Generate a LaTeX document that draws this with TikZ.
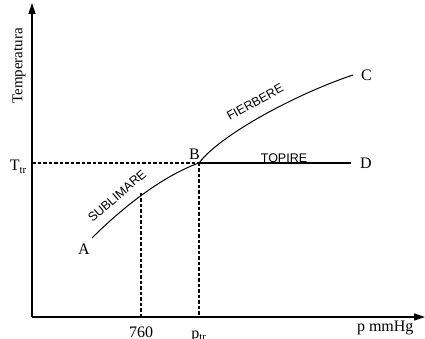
\documentclass[tikz,border=0pt]{standalone}
\usepackage{fontspec}
\setmainfont{Liberation Serif}
\newfontfamily\phasefont{Liberation Sans}
\usepackage{tikz}
\usetikzlibrary{ positioning, arrows.meta, calc }
\tikzset{
  axis/.style={line width=1.6pt, -{Triangle[length=11pt,width=7pt]}},
  guide/.style={line width=1.5pt, dash pattern=on 3.5pt off 2pt},
  phase/.style={font=\phasefont\fontsize{12.5}{14}\selectfont, inner sep=1pt},
  pt/.style={font=\fontsize{16}{18}\selectfont, inner sep=1pt}
}

\begin{document}
\begin{tikzpicture}[x=1pt, y=1pt, every node/.style={font=\fontsize{16}{18}\selectfont}]
  \useasboundingbox (0,0) rectangle (425,339);

  % axes
  \coordinate (O) at (32,22);
  \coordinate (Ytop) at (32,336);
  \coordinate (Xend) at (425,22);
  \draw[axis] (O) -- (Ytop);
  \draw[axis] (O) -- (Xend);
  \node[rotate=90, font=\fontsize{15}{17}\selectfont] (ylab) at (19,273) {Temperatura};
  \node[anchor=east] (xlab) at (417,11) {p mmHg};

  % curve points
  \coordinate (ptA) at (92,101);
  \coordinate (ptB) at (199,176);
  \coordinate (ptC) at (353,264);
  \coordinate (ptD) at (351,176);
  \coordinate (ptS) at (141,146);

  % phase boundaries
  \draw[line width=1pt] (ptA) .. controls (125,134) and (165,164) .. (ptB);
  \draw[line width=1pt] (ptB) .. controls (220,204) and (296,245) .. (ptC);
  \draw[line width=1.6pt] (ptB) -- (ptD);

  % guides to the axes
  \coordinate (Ttr) at (O |- ptB);
  \coordinate (ptr) at (O -| ptB);
  \coordinate (p760) at (O -| ptS);
  \draw[guide] (Ttr) -- (ptB);
  \draw[guide] (ptB) -- (ptr);
  \draw[guide] (ptS) -- (p760);

  % labels
  \node[pt, below left=5pt and 1pt of ptA] (labA) {A};
  \node[pt, above left=2pt and -2pt of ptB] (labB) {B};
  \node[pt, right=7pt of ptC] (labC) {C};
  \node[pt, right=8pt of ptD] (labD) {D};
  \node[pt, left=4pt of Ttr, yshift=-4pt] (labT) {T\textsubscript{\fontsize{11}{12}\selectfont tr}};
  \node[pt] (lab760) at (141,7) {760};
  \node[pt] (labp) at (199,3) {p\textsubscript{\fontsize{11}{12}\selectfont tr}};

  \node[phase, rotate=41] (subl) at (117,143) {SUBLIMARE};
  \node[phase, rotate=29] (fier) at (255,237) {FIERBERE};
  \node[phase] (top) at (284,181) {TOPIRE};
\end{tikzpicture}
\end{document}
